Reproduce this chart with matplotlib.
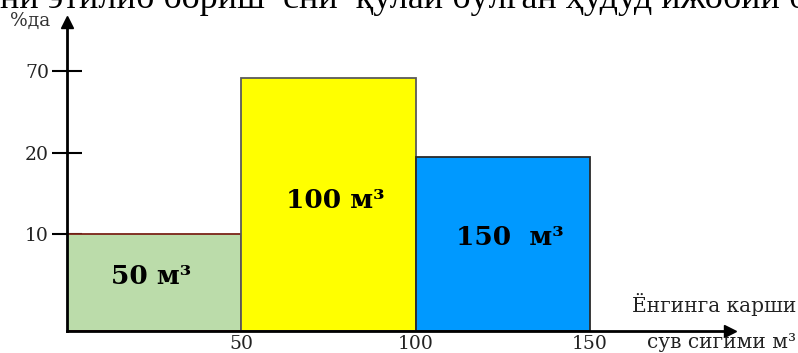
import matplotlib.pyplot as plt
import matplotlib.scale as mscale
import numpy as np

# data
left_edges = [0, 50, 100]
widths = [50, 50, 50]
heights = [10, 66, 19.5]
bar_labels = ['50 м³', '100 м³', '150  м³']
bar_colors = ['#bbdcaa', '#ffff00', '#0099ff']
edge_colors = ['#7a2418', '#5a5a5a', '#2a2a2a']
label_y = [5.6, 14.2, 9.6]
label_x = [24, 77, 127]
y_ticks = [10, 20, 70]
x_ticks = [50, 100, 150]

# y axis in the picture is not linear: 0, 10, 20, 70 are spaced by hand
y_vals = np.array([-100, 0, 10, 20, 70, 200])
y_pix = np.array([-970, 0, 97, 178, 260, 260 + 130 * 1.64])


def fwd(v):
    return np.interp(v, y_vals, y_pix)


def inv(p):
    return np.interp(p, y_pix, y_vals)


fig = plt.figure(figsize=(7.98, 3.53), dpi=100)
ax = fig.add_axes([67 / 798, 22 / 353, 662.5 / 798, 309 / 353])
ax.set_yscale(mscale.FuncScale(ax.yaxis, (fwd, inv)))

for x, w, h, c, ec in zip(left_edges, widths, heights, bar_colors, edge_colors):
    ax.bar(x, h, width=w, align='edge', color=c, edgecolor=ec, linewidth=1.3, zorder=2)

for x, y, t in zip(label_x, label_y, bar_labels):
    ax.text(x, y, t, ha='center', va='center', fontsize=19, fontweight='bold',
            family='DejaVu Serif', zorder=3)

ax.set_xlim(0, 190)
ax.set_ylim(0, 100)
ax.set_xticks(x_ticks)
ax.set_xticklabels([str(v) for v in x_ticks])
ax.set_yticks(y_ticks)
ax.set_yticklabels([str(v) for v in y_ticks])
ax.tick_params(axis='y', direction='inout', length=22, width=1.5, pad=2,
               labelsize=13.5, labelcolor='#222222')
ax.tick_params(axis='x', length=0, pad=3, labelsize=13.5, labelcolor='#222222')
for lab in ax.get_xticklabels() + ax.get_yticklabels():
    lab.set_family('DejaVu Serif')

for s in ['top', 'right']:
    ax.spines[s].set_visible(False)
for s in ['left', 'bottom']:
    ax.spines[s].set_linewidth(2)
    ax.spines[s].set_zorder(4)

# arrow heads on the axes
ax.plot(0, 1, marker='^', color='black', markersize=9, transform=ax.transAxes, clip_on=False)
ax.plot(1, 0, marker='>', color='black', markersize=9, transform=ax.transAxes, clip_on=False)

fig.text(10 / 798, 1 - 21 / 353, '%да', fontsize=13.5, family='DejaVu Serif',
         color='#333333', va='center')
fig.text(796 / 798, 1 - 305 / 353, 'Ёнгинга карши', fontsize=14.5,
         family='DejaVu Serif', color='#222222', va='center', ha='right')
fig.text(796 / 798, 1 - 343 / 353, 'сув сигими м³', fontsize=14.5,
         family='DejaVu Serif', color='#222222', va='center', ha='right')

# line of page text cut off at the top
fig.text(0, 1 - 8 / 353, 'ни этилиб бориш  сни  қулай бўлган ҳудуд ижобий бўлади',
         fontsize=26, family='Liberation Serif', va='baseline', ha='left')

fig.savefig('out.png', dpi=100)
